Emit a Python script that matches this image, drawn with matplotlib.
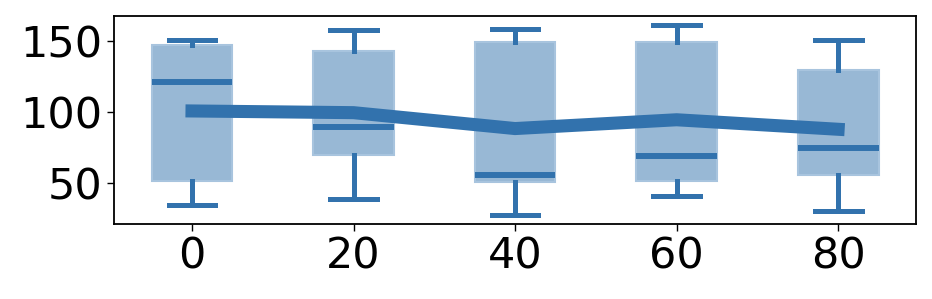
import matplotlib
matplotlib.use("Agg")
import matplotlib.pyplot as plt

positions = [0, 20, 40, 60, 80]
whislo = [34.5, 38.5, 27.5, 40.5, 30]
q1 = [51.5, 69.5, 50.5, 51.5, 55.5]
med = [121, 89.5, 55.5, 69, 74.5]
q3 = [147.5, 143, 149.5, 149.5, 129.5]
whishi = [150.5, 157.5, 158.5, 161, 150.5]
means = [100.7, 99.5, 88.3, 94.5, 87.8]

color = "#3272ad"

fig = plt.figure(figsize=(9.32, 2.99), dpi=100)
ax = fig.add_axes([0.1223, 0.251, 0.8607, 0.6955])

stats = [dict(whislo=a, q1=b, med=c, q3=d, whishi=e, fliers=[])
         for a, b, c, d, e in zip(whislo, q1, med, q3, whishi)]
ax.bxp(stats, positions=positions, widths=10, capwidths=5.8, patch_artist=True,
       showfliers=False, manage_ticks=False,
       boxprops=dict(facecolor=(0.196, 0.447, 0.678, 0.5), edgecolor=(0.66, 0.77, 0.87, 1.0), linewidth=1.5),
       whiskerprops=dict(color=color, linewidth=3.6),
       capprops=dict(color=color, linewidth=3.6),
       medianprops=dict(color=color, linewidth=4.3))
ax.plot(positions, means, color=color, linewidth=9.4, solid_capstyle="projecting",
        solid_joinstyle="miter", zorder=5)

ax.set_xlim(-9.66, 89.66)
ax.set_ylim(21.1, 167.6)
ax.set_xticks(positions)
ax.set_xticklabels([str(p) for p in positions])
ax.set_yticks([50, 100, 150])
ax.tick_params(labelsize=31, length=5, width=1)
for s in ax.spines.values():
    s.set_linewidth(1.3)

fig.savefig("out.png", dpi=100)
